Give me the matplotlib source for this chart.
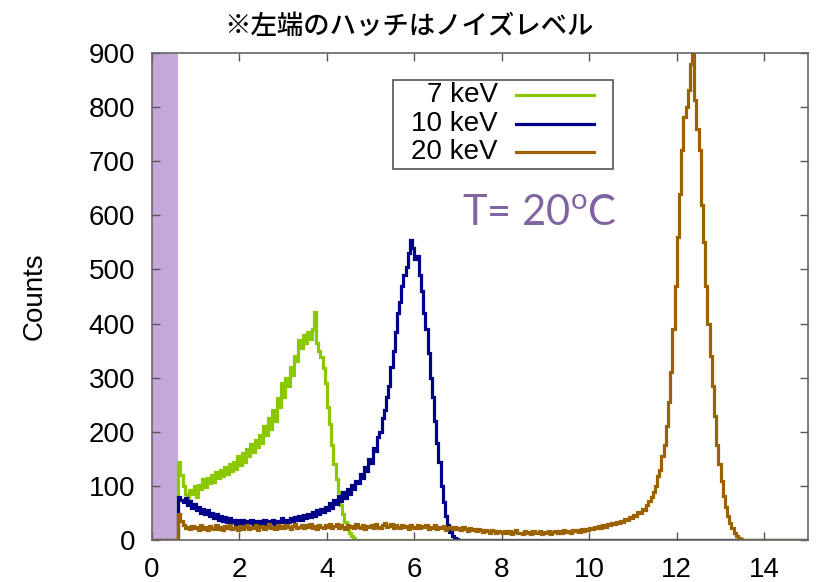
import numpy as np
import matplotlib
matplotlib.use("Agg")
import matplotlib.pyplot as plt
from matplotlib.patches import Rectangle

# Datos: histogramas con bines de 0.05 keV
bin_w = 0.05
x_max = 15.0
noise_end = 0.6

# 7 keV (inicio en 0.6 keV)
start_7 = 0.6
counts_7 = [
    145, 120, 100, 85, 78, 92, 85, 100,
    80, 102, 95, 112, 98, 115, 105, 120, 108, 125, 115, 130, 118, 135, 122, 140, 128, 145, 132, 155,
    138, 160, 145, 168, 155, 178, 162, 185, 172, 195, 180, 210, 195, 225, 205, 240, 220, 262, 245, 290,
    265, 300, 285, 320, 305, 340, 330, 370, 355, 378, 365, 385, 372, 390, 422, 365, 350, 338, 318, 290,
    245, 215, 175, 140, 112, 88, 65, 48, 34, 22, 13, 7, 3, 1, 0,
]

# 10 keV
start_10 = 0.6
counts_10 = [
    80, 75, 70, 78, 65, 72, 60, 66,
    55, 62, 50, 58, 48, 55, 45, 50, 40, 48, 38, 44, 36, 42, 34, 40, 33, 38, 30, 37,
    32, 38, 30, 36, 31, 38, 30, 35, 28, 36, 31, 38, 30, 36, 32, 38, 30, 36, 33, 40,
    34, 38, 33, 40, 35, 42, 37, 44, 38, 46, 40, 48, 42, 52, 45, 55, 48, 58, 52, 62,
    55, 68, 60, 75, 66, 82, 72, 88, 78, 95, 85, 102, 95, 110, 105, 122, 115, 135, 128, 150,
    142, 170, 165, 190, 200, 225, 240, 265, 285, 320, 350, 385, 420, 440, 470, 490, 505, 530, 555, 540,
    520, 525, 490, 460, 420, 390, 345, 300, 265, 220, 180, 145, 100, 70, 45, 28, 15, 8, 4, 2,
    1, 0,
]

# 20 keV
start_20 = 0.6
counts_20 = [
    48, 35, 28, 22, 25, 20, 26, 22,
    24, 19, 27, 21, 25, 18, 26, 22, 20, 27, 21, 24, 19, 26, 22, 28, 20, 23, 25, 19,
    26, 21, 24, 28, 20, 25, 22, 27, 19, 24, 26, 21, 25, 29, 22, 24, 20, 27, 23, 26,
    22, 28, 24, 21, 26, 30, 23, 25, 28, 22, 27, 24, 29, 23, 26, 21, 28, 25, 22, 27,
    24, 29, 22, 26, 30, 23, 27, 25, 21, 28, 24, 26, 22, 29, 25, 23, 27, 21, 26, 24,
    28, 23, 30, 25, 22, 27, 31, 24, 26, 29, 23, 27, 25, 22, 28, 24, 26, 21, 27, 25,
    23, 27, 22, 26, 24, 28, 21, 25, 23, 27, 20, 24, 22, 26, 19, 23, 25, 21, 24, 20,
    22, 18, 24, 20, 17, 22, 19, 21, 16, 20, 18, 15, 19, 17, 14, 18, 16, 13, 17, 15,
    14, 17, 13, 16, 12, 15, 18, 13, 14, 11, 16, 13, 15, 12, 17, 13, 14, 16, 12, 15,
    13, 16, 12, 15, 17, 13, 16, 14, 18, 15, 17, 14, 19, 16, 18, 15, 20, 17, 21, 19,
    22, 20, 24, 22, 26, 23, 27, 25, 29, 27, 31, 29, 33, 31, 36, 34, 39, 37, 43, 41,
    47, 45, 52, 50, 58, 56, 65, 72, 80, 88, 100, 118, 130, 155, 175, 210, 255, 310, 390, 470,
    560, 640, 720, 782, 800, 832, 880, 900, 813, 760, 720, 620, 550, 470, 400, 340, 285, 230, 175, 140,
    110, 82, 62, 45, 32, 22, 14, 8, 4, 2, 0,
]

labels = ["7 keV", "10 keV", "20 keV"]
colors = ["#8cc800", "#000088", "#9a6200"]
x_ticks = [0, 2, 4, 6, 8, 10, 12, 14]
y_ticks = [0, 100, 200, 300, 400, 500, 600, 700, 800, 900]

plt.rcParams['font.family'] = ['Liberation Sans', 'DejaVu Sans']

fig = plt.figure(figsize=(8.17, 5.82), dpi=100)
ax = fig.add_axes([0.186, 0.072, 0.803, 0.837])

# Zona de ruido
ax.axvspan(0, noise_end, color="#c4a8d8", zorder=0, lw=0)

series = [(start_7, counts_7), (start_10, counts_10), (start_20, counts_20)]
for (start, vals), col in zip(series, colors):
    edges = [0] + list(start + bin_w * np.arange(len(vals) + 1)) + [x_max]
    vals_full = [0] + vals + [0]
    ax.stairs(vals_full, edges, color=col, lw=2.3, baseline=None, zorder=2)

ax.set_xlim(0, 15)
ax.set_ylim(0, 900)
ax.set_xticks(x_ticks)
ax.set_yticks(y_ticks)
ax.tick_params(direction="in", length=6, width=1, color="#555555",
               top=True, right=True, labelsize=20, pad=12)
for s in ax.spines.values():
    s.set_color("#666666")
    s.set_linewidth(1.2)
    s.set_zorder(3)
ax.set_ylabel("Counts", fontsize=20, labelpad=30)

fig.text(0.5, 0.955, "※左端のハッチはノイズレベル", ha="center", va="center",
         fontsize=19, weight="medium", family=["Noto Sans CJK JP", "DejaVu Sans"])

# Leyenda a mano (texto a la derecha, linea despues)
box = Rectangle((0.368, 0.762), 0.335, 0.183, transform=ax.transAxes,
                fill=False, ec="#555555", lw=1.2, zorder=4)
ax.add_patch(box)
for i, (lab, col) in enumerate(zip(labels, colors)):
    yy = 0.913 - i * 0.058
    ax.text(0.527, yy, lab, transform=ax.transAxes, ha="right", va="center",
            fontsize=20, zorder=5)
    ax.plot([0.555, 0.674], [yy, yy], transform=ax.transAxes, color=col,
            lw=2.3, zorder=5)

ax.text(0.473, 0.67, r"T= 20$^\mathregular{o}$C", transform=ax.transAxes,
        fontsize=30, color="#8064a2", family=["Lato", "DejaVu Sans"],
        ha="left", va="center")

fig.savefig("out.png", dpi=100)
